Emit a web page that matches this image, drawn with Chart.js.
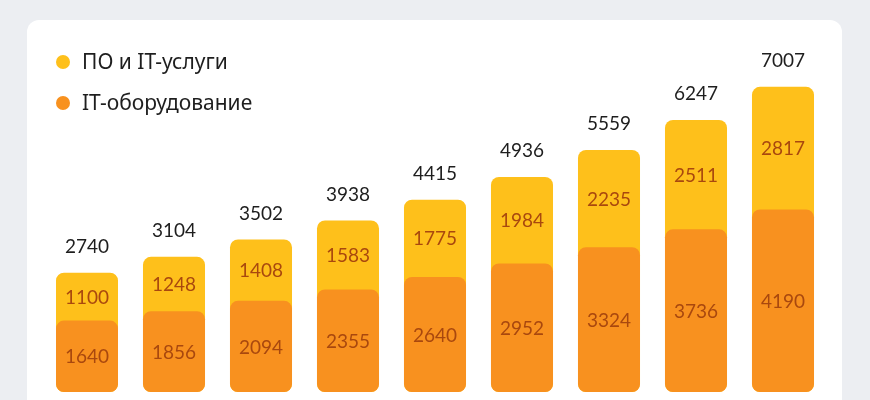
<!DOCTYPE html>
<html><head><meta charset="utf-8">
<script src="https://cdn.jsdelivr.net/npm/chart.js@4"></script>
<style>
html,body{margin:0;padding:0;background:#eceef2;width:870px;height:400px;overflow:hidden}
#card{position:absolute;left:27px;top:20px;width:815px;height:420px;background:#fff;border-radius:12px}
#wrap{position:absolute;left:0;top:0;width:870px;height:400px}
</style></head>
<body>
<div id="card"></div>
<div id="wrap"><canvas id="c" width="870" height="400"></canvas></div>
<script>
const categories = ["1","2","3","4","5","6","7","8","9"];
const seriesNames = ["ПО и IT-услуги", "IT-оборудование"];
const software = [1100,1248,1408,1583,1775,1984,2235,2511,2817];
const hardware = [1640,1856,2094,2355,2640,2952,3324,3736,4190];
const totals = [2740,3104,3502,3938,4415,4936,5559,6247,7007];

const YELLOW = '#fec01b';
const ORANGE = '#f8911f';

const labelPlugin = {
  id: 'labels',
  afterDatasetsDraw(chart) {
    const ctx = chart.ctx;
    const yMeta = chart.getDatasetMeta(0);
    const oMeta = chart.getDatasetMeta(1);
    ctx.save();
    ctx.textAlign = 'center';
    ctx.textBaseline = 'middle';
    ctx.font = '19px Lato';
    for (let i = 0; i < categories.length; i++) {
      const ye = yMeta.data[i], oe = oMeta.data[i];
      ctx.fillStyle = '#a9480e';
      ctx.fillText(String(hardware[i]), oe.x, (oe.y + oe.base) / 2 + 1);
      ctx.fillText(String(software[i]), ye.x, (ye.y + oe.y) / 2 + 1);
      ctx.fillStyle = '#1e1e1e';
      ctx.fillText(String(totals[i]), ye.x, ye.y - 26);
    }
    // legend
    const items = [[seriesNames[0], YELLOW, 62], [seriesNames[1], ORANGE, 103]];
    ctx.textAlign = 'left';
    ctx.font = '21px "Noto Sans"';
    items.forEach(([t, col, y]) => {
      ctx.fillStyle = col;
      ctx.beginPath(); ctx.arc(63, y, 7, 0, Math.PI * 2); ctx.fill();
      ctx.fillStyle = '#1e1e1e';
      ctx.fillText(t, 82, y + 1);
    });
    ctx.restore();
  }
};

new Chart(document.getElementById('c'), {
  type: 'bar',
  data: {
    labels: categories,
    datasets: [
      { label: seriesNames[0], data: totals, backgroundColor: YELLOW, order: 2, grouped: false,
        borderRadius: 8, borderSkipped: false },
      { label: seriesNames[1], data: hardware, backgroundColor: ORANGE, order: 1, grouped: false,
        borderRadius: 8, borderSkipped: false }
    ]
  },
  options: {
    responsive: false,
    animation: false,
    layout: { padding: { left: 43.5, right: 43.5, top: 61, bottom: 8 } },
    datasets: { bar: { categoryPercentage: 1, barPercentage: 0.713 } },
    scales: {
      x: { display: false },
      y: { display: false, min: 0, max: 7600 }
    },
    plugins: { legend: { display: false }, tooltip: { enabled: false } }
  },
  plugins: [labelPlugin]
});
</script>
</body></html>
